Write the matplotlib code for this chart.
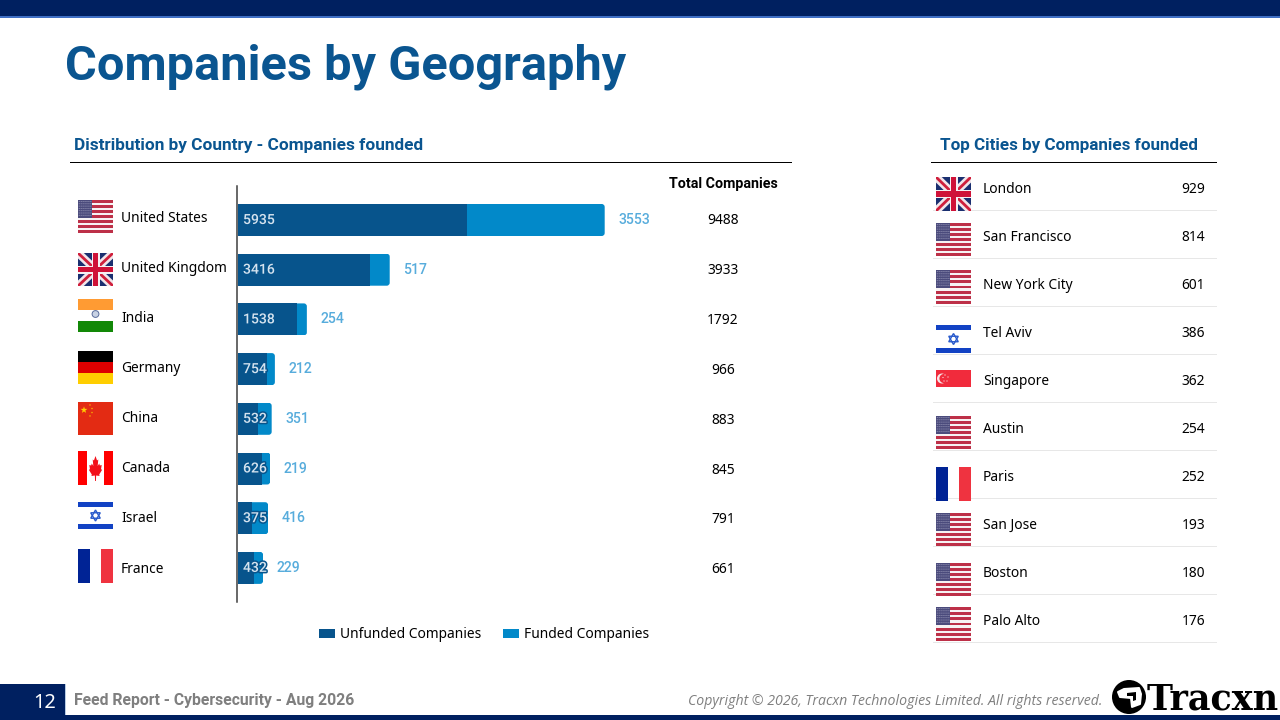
import numpy as np
import matplotlib
matplotlib.use("Agg")
import matplotlib.pyplot as plt
import matplotlib.patheffects as pe
from matplotlib.patches import Rectangle, Circle, Polygon, FancyBboxPatch

# ---------- data ----------
countries = ["United States", "United Kingdom", "India", "Germany", "China", "Canada", "Israel", "France"]
unfunded = [5935, 3416, 1538, 754, 532, 626, 375, 432]
funded = [3553, 517, 254, 212, 351, 219, 416, 229]
cities = ["London", "San Francisco", "New York City", "Tel Aviv", "Singapore",
          "Austin", "Paris", "San Jose", "Boston", "Palo Alto"]
city_counts = [929, 814, 601, 386, 362, 254, 252, 193, 180, 176]
country_flags = ["us", "uk", "in", "de", "cn", "ca", "il", "fr"]
city_flags = ["uk", "us", "us", "il", "sg", "us", "fr", "us", "us", "us"]

# ---------- style ----------
FONT = "Noto Sans"
BOLD = "Roboto"
NAVY = "#002060"
TITLE = "#0a5590"
DARK = "#07548c"
LIGHT = "#0289c9"
BODY = 13.8
px = lambda p: p * 0.72
plt.rcParams["font.family"] = [FONT, "DejaVu Sans"]

fig = plt.figure(figsize=(12.8, 7.2), dpi=100, facecolor="white")
bg = fig.add_axes([0, 0, 1, 1])
bg.set_xlim(0, 1280)
bg.set_ylim(720, 0)
bg.axis("off")


def rect(x, y, w, h, c, z=2, clip=None):
    r = Rectangle((x, y), w, h, fc=c, ec="none", zorder=z)
    bg.add_patch(r)
    if clip is not None:
        r.set_clip_path(clip)
    return r


def star(cx, cy, r, c, z=4, n=5, rot=-90, inner=0.4):
    ang = np.deg2rad(rot + np.arange(2 * n) * 180 / n)
    rad = np.where(np.arange(2 * n) % 2 == 0, r, r * inner)
    bg.add_patch(Polygon(np.c_[cx + rad * np.cos(ang), cy + rad * np.sin(ang)], fc=c, ec="none", zorder=z))


def flag_us(x, y, w, h):
    n = 13
    for i in range(n):
        rect(x, y + i * h / n, w, h / n + 0.1, "#bd3048" if i % 2 == 0 else "#f6f2f3")
    rect(x, y, w * 0.4, h * 7 / 13, "#4b4b7c", 3)
    for r in range(7):
        for c in range(7):
            bg.add_patch(Circle((x + 1.2 + c * 1.95, y + 1.5 + r * 2.3), 0.45, fc="#b9b9d2", ec="none", zorder=4))


def flag_uk(x, y, w, h):
    clip = rect(x, y, w, h, "#1a2f70")
    for lw, c, z in ((8, "#f2e6ea", 3), (2.8, "#cf1f3c", 4)):
        for a, b in (((x, y), (x + w, y + h)), ((x, y + h), (x + w, y))):
            ln, = bg.plot([a[0], b[0]], [a[1], b[1]], color=c, lw=px(lw), zorder=z, solid_capstyle="butt")
            ln.set_clip_path(clip)
    rect(x + w / 2 - 4, y, 8, h, "#f5f0f2", 5)
    rect(x, y + h / 2 - 4, w, 8, "#f5f0f2", 5)
    rect(x + w / 2 - 2.6, y, 5.2, h, "#cf1238", 6)
    rect(x, y + h / 2 - 2.6, w, 5.2, "#cf1238", 6)


def flag_in(x, y, w, h):
    rect(x, y, w, h / 3, "#ff9b33")
    rect(x, y + 2 * h / 3, w, h / 3, "#128807")
    bg.add_patch(Circle((x + w / 2, y + h / 2 - 1.5), 3.4, fc="#c8d2e4", ec="#5c6f9e", lw=px(1), zorder=3))


def flag_de(x, y, w, h):
    rect(x, y, w, h / 3, "#000000")
    rect(x, y + h / 3, w, h / 3, "#dd0000")
    rect(x, y + 2 * h / 3, w, h / 3, "#ffce00")


def flag_cn(x, y, w, h):
    rect(x, y, w, h, "#e32b13")
    star(x + 6, y + 8, 3.6, "#ffcc00")
    for dx, dy in ((12, 3), (14, 6.5), (14, 10.5), (12, 14)):
        star(x + dx, y + dy, 1.1, "#ffcc00")


def flag_ca(x, y, w, h):
    rect(x - 0.5, y, w * 0.27 + 0.5, h, "#ff0000")
    rect(x + w * 0.73, y, w * 0.27, h, "#ff0000")
    cx, cy = x + w / 2, y + h / 2
    pts = [(0, -13), (2.5, -8.5), (4.5, -9.5), (3.5, -3), (6, -5.5), (7, -3.5), (10, -4), (9, 0),
           (10.5, 1), (6, 5.5), (6.5, 7), (1, 6.5), (0.7, 12), (-0.7, 12), (-1, 6.5), (-6.5, 7),
           (-6, 5.5), (-10.5, 1), (-9, 0), (-10, -4), (-7, -3.5), (-6, -5.5), (-3.5, -3), (-4.5, -9.5), (-2.5, -8.5)]
    bg.add_patch(Polygon([(cx + a * 0.62, cy + 1 + b) for a, b in pts], fc="#f2101a", ec="none", zorder=3))


def flag_il(x, y, w, h):
    rect(x, y, w, 5, "#1242c4")
    rect(x, y + h - 5, w, 5, "#1242c4")
    cx, cy = x + w / 2, y + h / 2
    for rot in (-90, 90):
        ang = np.deg2rad(rot + np.arange(3) * 120)
        bg.add_patch(Polygon(np.c_[cx + 5.5 * np.cos(ang), cy + 5.5 * np.sin(ang)],
                             fc="none", ec="#2a5bcc", lw=px(1.4), zorder=3))


def flag_fr(x, y, w, h):
    rect(x, y, w / 3, h, "#002395")
    rect(x + 2 * w / 3, y, w / 3, h, "#ef3340")


def flag_sg(x, y, w, h):
    rect(x, y, w, h, "#f12b3c")
    bg.add_patch(Circle((x + 6, y + h / 2), 5, fc="#f8e8ea", ec="none", zorder=3))
    bg.add_patch(Circle((x + 8, y + h / 2), 4.6, fc="#f12b3c", ec="none", zorder=4))
    for dx, dy in ((9, 5), (12, 7), (11, 11), (8, 11), (7, 7.5)):
        bg.add_patch(Circle((x + dx, y + dy), 0.6, fc="#f8e8ea", ec="none", zorder=5))


FLAGS = {"us": flag_us, "uk": flag_uk, "in": flag_in, "de": flag_de, "cn": flag_cn,
         "ca": flag_ca, "il": flag_il, "fr": flag_fr, "sg": flag_sg}

# ---------- frame ----------
rect(0, 0, 1280, 16, NAVY)
rect(0, 16, 1280, 2, "#3f6fc4")
rect(0, 715, 1280, 5, NAVY)
rect(0, 684, 65, 31, NAVY)
rect(65, 684, 1, 31, "#b8cce4")

BASE = dict(va="baseline")
BB = dict(va="baseline", family=BOLD, fontweight="bold")
bg.text(65, 79, "Companies by Geography", fontsize=px(48.8), color=TITLE, **BB)
bg.text(74, 150, "Distribution by Country - Companies founded", fontsize=px(17.3), color=TITLE, **BB)
bg.text(940, 150, "Top Cities by Companies founded", fontsize=px(17), color=TITLE, **BB)
bg.plot([70, 791], [162, 162], color="black", lw=px(1), zorder=2)
bg.plot([931, 1216], [162, 162], color="black", lw=px(1), zorder=2)

bg.text(723, 188, "Total Companies", fontsize=px(14.2), color="black", ha="center", **BB)

# ---------- left table ----------
flag_tops = [200, 253, 299, 351, 402, 451, 502, 549]
flag_hts = [33, 33, 33, 33, 33, 34, 27, 34]
label_ys = [222, 272, 322, 372.5, 422.5, 472.5, 522.5, 573]
total_ys = [224, 274, 324, 374, 424, 473.5, 523, 573]
for f, t, h, name, ly, ty, u, v in zip(country_flags, flag_tops, flag_hts, countries, label_ys, total_ys, unfunded, funded):
    FLAGS[f](78, t, 35, h)
    bg.text(121, ly, name, fontsize=px(BODY), color="black", ha="left", **BASE)
    bg.text(723, ty, str(u + v), fontsize=px(BODY), color="black", ha="center", **BASE)

# ---------- right table ----------
city_tops = [177, 223, 270, 325, 370, 416, 467, 513, 563, 607]
city_hts = [34, 33, 34, 28, 17, 33, 34, 33, 33, 34]
for i, (f, t, h, name, val) in enumerate(zip(city_flags, city_tops, city_hts, cities, city_counts)):
    yy = 193 + 48 * i
    sep = 210 + 48 * i
    bg.plot([933, 1216], [sep, sep], color="#e7e7e7", lw=px(1), zorder=1)
    FLAGS[f](936, t, 35, h)
    bg.text(983, yy, name, fontsize=px(BODY), color="black", ha="left", **BASE)
    bg.text(1205, yy, str(val), fontsize=px(BODY), color="black", ha="right", **BASE)

# ---------- footer ----------
bg.text(45, 708, "12", fontsize=px(20), color="white", ha="center", **BASE)
bg.text(74, 705, "Feed Report - Cybersecurity - Aug 2026", fontsize=px(15.7), color="#7f7f7f", **BB)
bg.text(1102, 705, "Copyright © 2026, Tracxn Technologies Limited. All rights reserved.", fontsize=px(14.1),
        family="Open Sans", style="italic", color="#7f7f7f", ha="right", **BASE)
bg.add_patch(Circle((1129, 697), 17, fc="black", ec="none", zorder=3))
bg.add_patch(Polygon([(1118, 692), (1124, 689), (1139, 688), (1141, 694), (1140, 704), (1132, 707), (1131, 698), (1120, 697)],
                     fc="white", ec="white", lw=px(2), joinstyle="round", zorder=4))
bg.add_patch(Polygon([(1127, 693), (1136, 692), (1136, 700), (1133, 701), (1133, 696), (1127, 696)], fc="black", ec="none", zorder=5))
bg.text(1147, 709, "Tracxn", family="DejaVu Serif", fontweight="bold", fontsize=px(35), color="black", ha="left", va="baseline")

# ---------- chart ----------
AX_L, AX_T, AX_B = 237.5, 186, 602
SCALE = 0.03870          # pixels per company
AX_W = 500
ax = fig.add_axes([AX_L / 1280, 1 - AX_B / 720, AX_W / 1280, (AX_B - AX_T) / 720], facecolor="none")
ROW = 49.7
ax.set_xlim(0, AX_W / SCALE)
ax.set_ylim((AX_B - 220) / ROW, (AX_T - 220) / ROW)
y = np.arange(len(countries))
BAR_H = 32 / ROW
left = np.array(unfunded)
b1 = ax.barh(y, unfunded, height=BAR_H, color=DARK, zorder=3, label="Unfunded Companies")
b2 = ax.barh(y, funded, left=left, height=BAR_H, color=LIGHT, zorder=2, label="Funded Companies")

# rounded right corners on the funded segment
RAD = 3 / SCALE
for bar in b2:
    clip = FancyBboxPatch((0, bar.get_y()), bar.get_x() + bar.get_width(), bar.get_height(),
                          boxstyle=f"round,pad=0,rounding_size={RAD}",
                          mutation_aspect=(1 / ROW) / (1 / SCALE), transform=ax.transData)
    bar.set_clip_path(clip)

for yi, u, v in zip(y, unfunded, funded):
    ax.annotate(str(u), (0, yi), xytext=(px(5.5), 0), textcoords="offset points", family="Roboto",
                fontweight="medium", fontsize=px(14), color="#d5e3ef", va="center", ha="left", zorder=5,
                path_effects=[pe.withStroke(linewidth=px(3), foreground=DARK)])
    ax.annotate(str(v), (u + v, yi), xytext=(px(13.5), 0), textcoords="offset points", family="Roboto",
                fontweight="medium", fontsize=px(14), color="#57acdc", va="center", ha="left", zorder=5)

for s in ("top", "right", "bottom"):
    ax.spines[s].set_visible(False)
ax.spines["left"].set_color("#3a3a3a")
ax.spines["left"].set_linewidth(px(1.5))
ax.spines["left"].set_position(("outward", px(0.5)))
ax.spines["left"].set_zorder(6)
ax.set_xticks([])
ax.set_yticks([])

leg = ax.legend(loc="center left", bbox_to_anchor=(316 / 1280, 1 - 634.5 / 720), bbox_transform=fig.transFigure,
                ncol=2, frameon=False, fontsize=px(BODY), handlelength=1.15, handleheight=0.62,
                handletextpad=0.4, columnspacing=1.55, borderpad=0.2, borderaxespad=0)

fig.savefig("out.png", dpi=100, facecolor="white")
